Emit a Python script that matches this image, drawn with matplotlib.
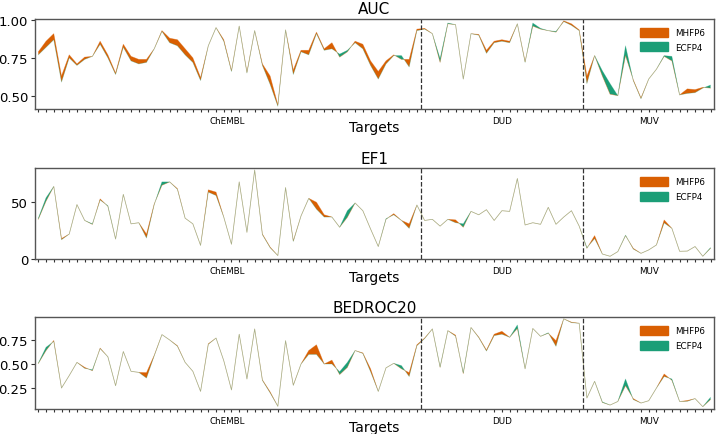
import numpy as np
import matplotlib
matplotlib.use("Agg")
import matplotlib.pyplot as plt
from matplotlib.patches import Patch
import matplotlib.transforms as mtransforms

groups = ["ChEMBL", "DUD", "MUV"]
group_sizes = [50, 21, 17]
series_names = ["MHFP6", "ECFP4"]
colors = {"MHFP6": "#d95f02", "ECFP4": "#1b9e77"}

auc_mhfp6 = [0.79, 0.86, 0.91, 0.63, 0.77, 0.71, 0.755, 0.76, 0.86, 0.77,
             0.65, 0.84, 0.76, 0.74, 0.74, 0.81, 0.93, 0.88, 0.87, 0.81,
             0.75, 0.62, 0.83, 0.95, 0.87, 0.665, 0.96, 0.655, 0.93, 0.71,
             0.63, 0.44, 0.935, 0.67, 0.80, 0.80, 0.92, 0.81, 0.85, 0.755,
             0.79, 0.86, 0.84, 0.73, 0.66, 0.73, 0.77, 0.74, 0.74, 0.94,
             0.945, 0.91, 0.72, 0.975, 0.97, 0.61, 0.91, 0.905, 0.80, 0.86,
             0.87, 0.86, 0.975, 0.725, 0.96, 0.94, 0.93, 0.92, 0.995, 0.975,
             0.935, 0.63, 0.765, 0.63, 0.51, 0.50, 0.765, 0.605, 0.485, 0.61,
             0.675, 0.76, 0.73, 0.505, 0.545, 0.54, 0.555, 0.55]
auc_ecfp4 = [0.77, 0.82, 0.87, 0.59, 0.75, 0.70, 0.74, 0.76, 0.84, 0.75,
             0.64, 0.82, 0.73, 0.71, 0.72, 0.81, 0.925, 0.85, 0.83, 0.77,
             0.72, 0.60, 0.83, 0.95, 0.86, 0.66, 0.96, 0.65, 0.93, 0.70,
             0.575, 0.43, 0.935, 0.64, 0.79, 0.77, 0.91, 0.80, 0.81, 0.775,
             0.80, 0.85, 0.81, 0.70, 0.61, 0.71, 0.765, 0.765, 0.69, 0.93,
             0.94, 0.91, 0.745, 0.98, 0.97, 0.61, 0.91, 0.90, 0.78, 0.85,
             0.86, 0.85, 0.975, 0.72, 0.98, 0.945, 0.93, 0.925, 0.99, 0.965,
             0.93, 0.58, 0.765, 0.665, 0.58, 0.50, 0.83, 0.60, 0.48, 0.61,
             0.675, 0.765, 0.76, 0.505, 0.515, 0.52, 0.55, 0.57]

ef1_mhfp6 = [35, 51, 64, 18, 22, 48, 34, 30.5, 53, 46.5,
             17.6, 57, 31, 32, 22, 48.5, 65, 68, 62, 36,
             31, 12, 61, 59, 37, 13, 68, 23.5, 78.5, 22,
             10.5, 3, 63, 16, 38, 53.5, 50, 39, 37, 28,
             36.8, 49.4, 42.6, 26.5, 11, 35, 40, 34, 31, 47.6,
             34, 35, 29, 35, 34.5, 28, 42, 39, 43.5, 34,
             42.6, 42, 71, 30, 32, 30.6, 45.6, 30.6, 37, 42.6,
             29, 9.4, 20.6, 4.4, 2.4, 6.5, 20.6, 9.4, 5, 8,
             12.4, 34.4, 27, 6.8, 7, 11, 2.4, 9.4]
ef1_ecfp4 = [36, 54, 64, 17, 22, 48, 34, 31, 52, 47,
             17.6, 57, 31, 32, 18.5, 48, 68, 68, 61.5, 36,
             31, 12, 59, 56, 37, 13, 68, 23.5, 78.5, 21.5,
             10, 3, 63, 15.5, 38, 53.5, 44, 37, 37, 28,
             42.6, 49.4, 42.6, 26.5, 11, 35.5, 39, 34, 27, 47.6,
             34, 35, 29, 35, 32, 31, 42, 39, 43.5, 34,
             42.6, 42, 71, 30, 32, 30.6, 45.6, 30.6, 37, 42.6,
             29, 10, 18, 4.4, 2.4, 6.5, 21, 8.8, 5, 8,
             12.4, 31.8, 27, 6.8, 7, 11, 2.4, 10]

bedroc_mhfp6 = [0.505, 0.64, 0.745, 0.25, 0.38, 0.517, 0.465, 0.43, 0.665, 0.575,
                0.274, 0.63, 0.424, 0.413, 0.41, 0.59, 0.806, 0.75, 0.69, 0.517,
                0.424, 0.215, 0.71, 0.77, 0.535, 0.23, 0.81, 0.344, 0.865, 0.335,
                0.21, 0.06, 0.743, 0.28, 0.5, 0.64, 0.70, 0.5, 0.54, 0.39,
                0.465, 0.64, 0.615, 0.45, 0.215, 0.46, 0.507, 0.45, 0.41, 0.70,
                0.77, 0.865, 0.465, 0.847, 0.80, 0.40, 0.88, 0.78, 0.645, 0.81,
                0.84, 0.778, 0.87, 0.45, 0.87, 0.788, 0.82, 0.743, 0.97, 0.935,
                0.924, 0.146, 0.32, 0.10, 0.073, 0.11, 0.274, 0.14, 0.094, 0.118,
                0.25, 0.396, 0.33, 0.11, 0.12, 0.14, 0.056, 0.13]
bedroc_ecfp4 = [0.51, 0.674, 0.735, 0.25, 0.38, 0.517, 0.455, 0.44, 0.66, 0.576,
                0.274, 0.63, 0.424, 0.413, 0.354, 0.585, 0.806, 0.75, 0.685, 0.517,
                0.424, 0.215, 0.705, 0.77, 0.535, 0.23, 0.81, 0.344, 0.865, 0.33,
                0.2, 0.06, 0.743, 0.278, 0.5, 0.60, 0.60, 0.5, 0.50, 0.42,
                0.517, 0.64, 0.61, 0.42, 0.215, 0.46, 0.507, 0.483, 0.37, 0.69,
                0.765, 0.865, 0.47, 0.847, 0.79, 0.41, 0.88, 0.775, 0.635, 0.795,
                0.81, 0.778, 0.906, 0.45, 0.87, 0.788, 0.825, 0.684, 0.97, 0.93,
                0.924, 0.146, 0.32, 0.105, 0.073, 0.11, 0.344, 0.13, 0.094, 0.118,
                0.25, 0.37, 0.344, 0.11, 0.112, 0.14, 0.056, 0.153]

panels = [
    ("AUC", auc_mhfp6, auc_ecfp4, (0.412, 1.007), [0.50, 0.75, 1.00], "{:.2f}"),
    ("EF1", ef1_mhfp6, ef1_ecfp4, (0, 80), [0, 50], "{:.0f}"),
    ("BEDROC20", bedroc_mhfp6, bedroc_ecfp4, (0.035, 0.986), [0.25, 0.50, 0.75], "{:.2f}"),
]

W, H = 716, 435
fig = plt.figure(figsize=(W / 100, H / 100), dpi=100)
boxes = [(20, 110), (169.3, 260), (318.3, 409.7)]
left_px, right_px = 35, 714

n = sum(group_sizes)
x = np.arange(n)
bounds = np.cumsum(group_sizes)
centers = [(s - g + s - 1) / 2 for s, g in zip(bounds, group_sizes)]

for (title, m, e, ylim, yt, fmt), (top, bot) in zip(panels, boxes):
    hpx = bot - top
    ax = fig.add_axes([left_px / W, 1 - bot / H, (right_px - left_px) / W, hpx / H])
    m = np.array(m, float)
    e = np.array(e, float)
    ax.plot(x, m, color=colors["MHFP6"], lw=0.5, alpha=0.45)
    ax.plot(x, e, color=colors["ECFP4"], lw=0.5, alpha=0.35)
    ax.fill_between(x, m, e, where=m >= e, interpolate=True, color=colors["MHFP6"], lw=0)
    ax.fill_between(x, m, e, where=e > m, interpolate=True, color=colors["ECFP4"], lw=0)
    for b in bounds[:-1]:
        ax.axvline(b - 0.5, color="#333333", ls="--", lw=0.9)
    ax.set_xlim(-0.43, 87.45)
    ax.set_ylim(*ylim)
    ax.set_xticks(x)
    ax.set_xticklabels([])
    ax.tick_params(axis="x", length=2.5, width=0.8, color="#333333")
    ax.set_yticks(yt)
    ax.set_yticklabels([fmt.format(v) for v in yt], fontsize=9.5)
    ax.tick_params(axis="y", length=3, width=0.8, color="#333333", pad=2)
    for sp in ax.spines.values():
        sp.set_color("#555555")
        sp.set_linewidth(1.0)
    trans = mtransforms.blended_transform_factory(ax.transData, ax.transAxes)
    for g, c in zip(groups, centers):
        ax.text(c, -12 / hpx, g, transform=trans, ha="center", va="center", fontsize=6.3)
    ax.text(0.5, -18 / hpx, "Targets", transform=ax.transAxes, ha="center", va="center",
            fontsize=10)
    ax.set_title(title, fontsize=11, pad=4)
    handles = [Patch(color=colors[s], label=s) for s in series_names]
    ax.legend(handles=handles, loc="upper right", frameon=False, fontsize=6.3,
              handlelength=3.2, handleheight=1.2, borderaxespad=0.6, labelspacing=0.6)

fig.savefig("out.png", dpi=100)
